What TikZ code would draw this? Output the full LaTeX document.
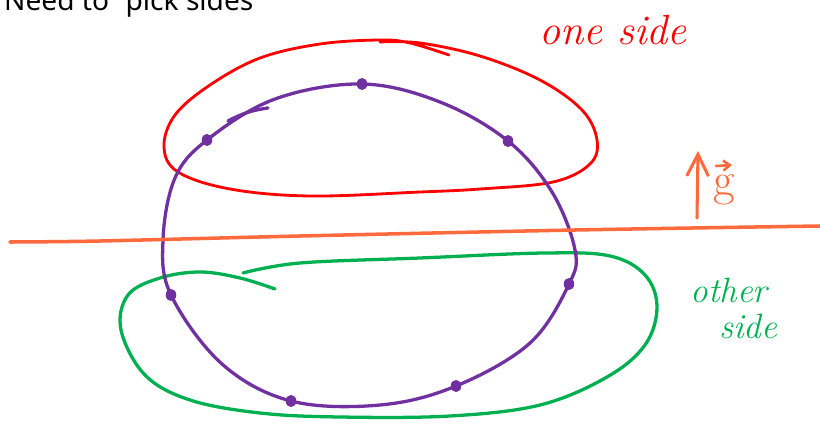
\documentclass[tikz,border=0pt]{standalone}
\usepackage{fontspec}
\newfontfamily\notefont{Noto Sans}
\usetikzlibrary{arrows.meta}
\definecolor{loopred}{RGB}{255,0,0}
\definecolor{looppurple}{RGB}{112,48,160}
\definecolor{loopgreen}{RGB}{0,176,80}
\definecolor{gorange}{RGB}{255,106,61}
\begin{document}
\begin{tikzpicture}[x=0.03cm,y=-0.03cm,
  pen/.style={line width=2.8pt,line cap=round,line join=round},
  dot/.style={fill=looppurple},
  hand/.style={inner sep=0pt,font=\fontsize{36}{36}\selectfont\itshape}]
  \useasboundingbox (0,0) rectangle (820,426);
  \node[anchor=base west,inner sep=0pt,font=\notefont\fontsize{24}{24}\selectfont] (title) at (4,11) {Need to “pick sides”};
  % red loop
  \draw[pen,loopred,line width=2.4pt] plot[smooth,tension=0.6] coordinates {(449,55) (410,43) (380,40) (320,44) (260,58) (210,85) (175,115) (164,147) (178,172) (230,189) (310,196) (420,192) (480,189) (553,182) (590,164) (597,140) (582,110) (540,80) (480,56) (420,43) (380,42)};
  % green loop
  \draw[pen,loopgreen] plot[smooth,tension=0.6] coordinates {(243,273) (300,263) (420,258) (545,253) (610,256) (645,275) (657,307) (645,345) (607,377) (540,405) (450,416) (340,417) (260,413) (190,400) (145,375) (121,330) (128,295) (160,278) (200,272) (240,278) (275,289)};
  % purple loop
  \draw[pen,looppurple] plot[smooth cycle,tension=0.6] coordinates {(163,240) (175,178) (207,140) (275,99) (362,84) (440,102) (508,141) (552,192) (575,250) (569,284) (530,343) (456,386) (380,405) (291,401) (222,364) (171,295)};
  \draw[pen,looppurple] (228,121) to[bend left=10] (268,108);
  \foreach \p in {(207,140),(362,84),(508,141),(569,284),(456,386),(291,401),(171,295)}
    \fill[dot] \p circle[x radius=4.5pt,y radius=5.2pt];
  % dividing line
  \draw[pen,gorange,line width=3pt] plot[smooth] coordinates {(10,242) (100,241) (300,236) (575,230) (820,226)};
  \coordinate (gfoot) at (697,218);
  \coordinate (gtip) at (698,151);
  \draw[pen,gorange,line width=2.6pt,-{Straight Barb[length=0.65cm,width=0.65cm]}] (gfoot) -- (gtip);
  \node[gorange,inner sep=0pt,font=\fontsize{40}{40}\selectfont] (gvec) at (724,190) {g};
  \coordinate (vecfoot) at (716,166);
  \draw[pen,gorange,line width=2.2pt,-{Straight Barb[length=0.2cm,width=0.3cm]}] (vecfoot) -- ++(16,-1);
  % labels
  \node[hand,loopred] (one) at (613,30) {one side};
  \node[hand,loopgreen,font=\fontsize{30}{30}\selectfont\itshape] (other) at (729,290) {other};
  \node[hand,loopgreen,font=\fontsize{30}{30}\selectfont\itshape] (side) at (748,326) {side};
\end{tikzpicture}
\end{document}
